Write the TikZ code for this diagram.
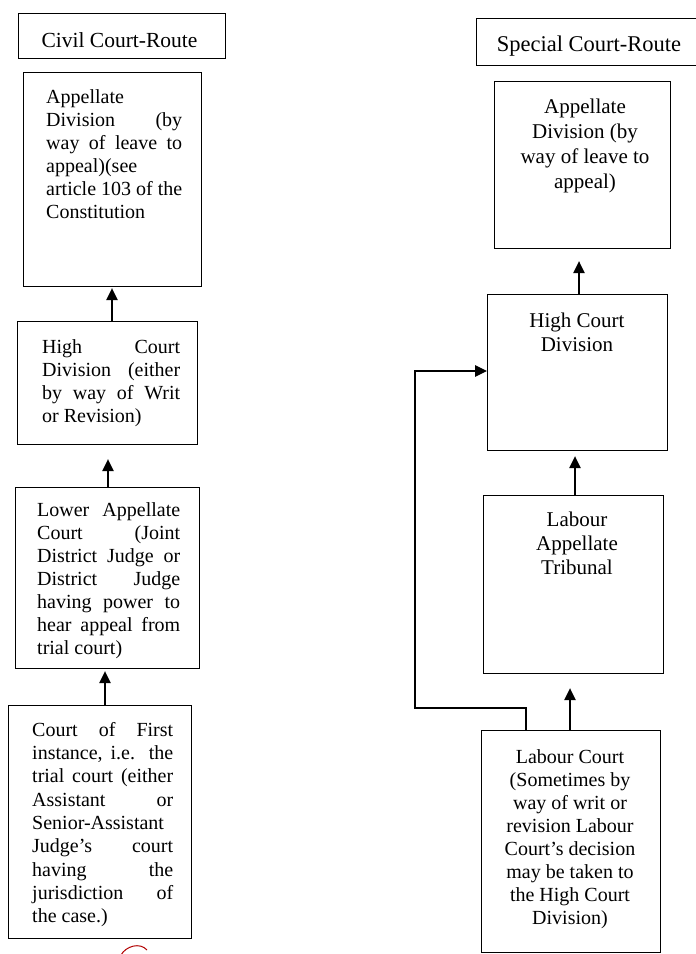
\documentclass[tikz,border=0pt]{standalone}
\usepackage{fontspec}
\setmainfont{Liberation Serif}
\usetikzlibrary{arrows.meta}
\newcommand\jst[2]{\makebox[#1][s]{#2}}
\newcommand\jlf[2]{\makebox[#1][l]{#2}}
\begin{document}
\begin{tikzpicture}[x=1pt,y=-1pt,
  box/.style={draw, line width=1.2pt, rectangle, inner sep=0pt, anchor=north west},
  ltxt/.style={anchor=north west, inner sep=0pt, align=left, font=\fontsize{20}{23}\selectfont},
  ctxt/.style={anchor=north, inner sep=0pt, align=center},
  ttl/.style={anchor=base, inner sep=0pt},
  arr/.style={line width=1.2pt, -{Triangle[width=11.5pt,length=12pt]}}]
\useasboundingbox (0,0) rectangle (696,954);
\clip (0,0) rectangle (696,954);
\fill[white] (0,0) rectangle (696,954);

% ---------- left column ----------
\node[box, minimum width=207pt, minimum height=45pt] (cr) at (18,13) {};
\node[ttl, font=\fontsize{21.5}{24}\selectfont] (crt) at (119.5,47.5) {Civil Court-Route};

\node[box, minimum width=178pt, minimum height=214pt] (la) at (23,72) {};
\node[ltxt] (lat) at (46,89) {\rule{0pt}{14pt}\jlf{136pt}{Appellate}\\
  \jst{136pt}{Division (by}\\
  \jst{136pt}{way of leave to}\\
  \jlf{136pt}{appeal)(see}\\
  \jst{136pt}{article 103 of the}\\
  \jlf{136pt}{Constitution}};

\node[box, minimum width=180pt, minimum height=123pt] (lh) at (17,321) {};
\node[ltxt] (lht) at (42,339) {\rule{0pt}{14pt}\jst{138pt}{High Court}\\
  \jst{138pt}{Division (either}\\
  \jst{138pt}{by way of Writ}\\
  \jlf{138pt}{or Revision)}};

\node[box, minimum width=184pt, minimum height=181pt] (ll) at (15,487) {};
\node[ltxt] (llt) at (37,502) {\rule{0pt}{14pt}\jst{143pt}{Lower Appellate}\\
  \jst{143pt}{Court (Joint}\\
  \jst{143pt}{District Judge or}\\
  \jst{143pt}{District Judge}\\
  \jst{143pt}{having power to}\\
  \jst{143pt}{hear appeal from}\\
  \jlf{143pt}{trial court)}};

\node[box, minimum width=183pt, minimum height=233pt] (lf) at (8,705) {};
\node[ltxt, font=\fontsize{20}{23.3}\selectfont] (lft) at (32,722) {\rule{0pt}{14pt}\jst{141pt}{Court of First}\\
  \jst{141pt}{instance, i.e. the}\\
  \jst{141pt}{trial court (either}\\
  \jst{141pt}{Assistant or}\\
  \jlf{141pt}{Senior-Assistant}\\
  \jst{141pt}{Judge's court}\\
  \jst{141pt}{having the}\\
  \jst{141pt}{jurisdiction of}\\
  \jlf{141pt}{the case.)}};

\coordinate (xa1) at (112,0);
\coordinate (xa2) at (108,0);
\coordinate (xa3) at (105,0);
\draw[arr, shorten >=1pt] (lh.north -| xa1) -- (la.south -| xa1);
\draw[arr, shorten >=14pt] (ll.north -| xa2) -- (lh.south -| xa2);
\draw[arr, shorten >=2pt] (lf.north -| xa3) -- (ll.south -| xa3);

% red pen mark
\draw[red!70!black, line width=1pt] (121,955) .. controls (126,946) and (140,942) .. (147,950);

% ---------- right column ----------
\node[box, minimum width=232pt, minimum height=47pt] (sr) at (476,18) {};
\node[ttl, font=\fontsize{22.5}{25}\selectfont] (srt) at (589,51) {Special Court-Route};

\node[box, minimum width=176pt, minimum height=167pt] (ra) at (494,81) {};
\node[ctxt, font=\fontsize{21}{25}\selectfont] (rat) at (585,98.5) {\rule{0pt}{14.7pt}Appellate\\
  Division (by\\ way of leave to\\ appeal)};

\node[box, minimum width=180pt, minimum height=156pt] (rh) at (487,294) {};
\node[ctxt, font=\fontsize{21}{24}\selectfont] (rht) at (577,313) {\rule{0pt}{14.7pt}High Court\\ Division};

\node[box, minimum width=180pt, minimum height=178pt] (rt) at (483,495) {};
\node[ctxt, font=\fontsize{21}{24}\selectfont] (rtt) at (577,512) {\rule{0pt}{14.7pt}Labour\\ Appellate\\ Tribunal};

\node[box, minimum width=179pt, minimum height=222pt] (rl) at (481,730) {};
\node[ctxt, font=\fontsize{20}{23}\selectfont] (rlt) at (570,749) {\rule{0pt}{14pt}Labour Court\\
  (Sometimes by\\ way of writ or\\ revision Labour\\ Court's decision\\
  may be taken to\\ the High Court\\ Division)};

\coordinate (xb1) at (579,0);
\coordinate (xb2) at (575,0);
\coordinate (xb3) at (570,0);
\draw[arr, shorten >=12pt] (rh.north -| xb1) -- (ra.south -| xb1);
\draw[arr, shorten >=5pt] (rt.north -| xb2) -- (rh.south -| xb2);
\draw[arr, shorten >=14pt] (rl.north -| xb3) -- (rt.south -| xb3);

\coordinate (c1) at (526,708);
\coordinate (c2) at (415,708);
\coordinate (c3) at (415,371);
\draw[arr] (rl.north -| c1) -- (c1) -- (c2) -- (c3) -- (rh.west |- c3);
\end{tikzpicture}
\end{document}
